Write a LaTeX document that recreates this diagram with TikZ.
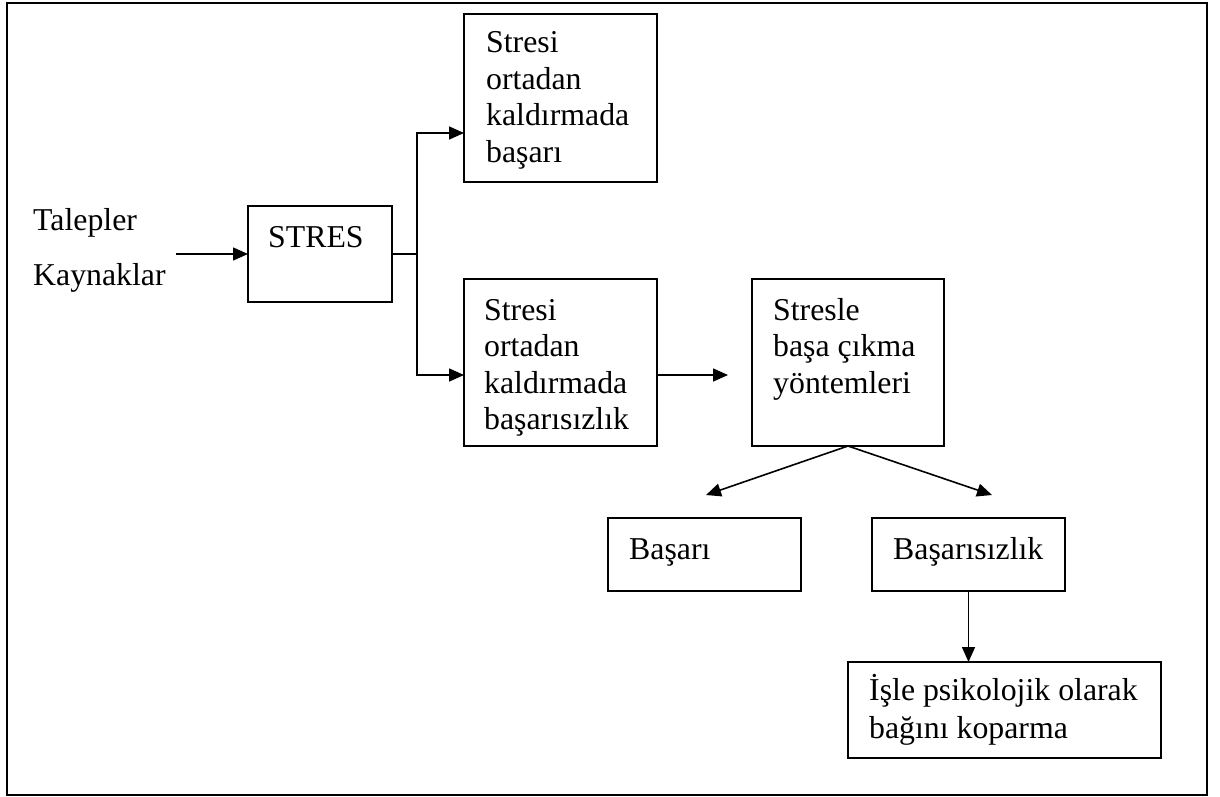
\documentclass[tikz,border=0pt]{standalone}
\usepackage{fontspec}
\setmainfont{Liberation Serif}
\usetikzlibrary{arrows.meta}
\tikzset{
  box/.style={draw, line width=1.6pt, rectangle, inner sep=0pt, outer sep=0pt, anchor=north west},
  lbl/.style={anchor=base west, inner sep=0pt, font=\fontsize{31.8}{36.5}\selectfont},
  conn/.style={line width=1.6pt},
  arr/.style={line width=1.6pt, -{Triangle[length=15pt,width=13pt]}}
}
\begin{document}
\begin{tikzpicture}[x=1pt,y=-1pt]
\useasboundingbox (0,0) rectangle (1220,797);
\draw[line width=2pt] (7,3) rectangle (1207,795);

% boxes
\node[box, minimum width=144pt, minimum height=96pt] (stres) at (248,206) {};
\node[box, minimum width=193pt, minimum height=168pt] (ok) at (464,14) {};
\node[box, minimum width=193pt, minimum height=167pt] (fail) at (464,279) {};
\node[box, minimum width=192pt, minimum height=167pt] (cope) at (752,279) {};
\node[box, minimum width=193pt, minimum height=73pt] (succ) at (608,518) {};
\node[box, minimum width=193pt, minimum height=73pt] (failb) at (872,518) {};
\node[box, minimum width=313pt, minimum height=96pt] (detach) at (848,662) {};

% texts
\node[lbl] (talep) at (33,230) {Talepler};
\node[lbl] (kayn) at (33,285) {Kaynaklar};
\node[lbl] (stxt) at (268,247) {STRES};

\node[lbl] (ok1) at (486,53) {Stresi};
\node[lbl] (ok2) at (486,89.5) {ortadan};
\node[lbl] (ok3) at (486,126) {kaldırmada};
\node[lbl] (ok4) at (486,162.5) {başarı};

\node[lbl] (f1) at (484,320) {Stresi};
\node[lbl] (f2) at (484,356.5) {ortadan};
\node[lbl] (f3) at (484,393) {kaldırmada};
\node[lbl] (f4) at (484,429) {başarısızlık};

\node[lbl] (c1) at (773,320) {Stresle};
\node[lbl] (c2) at (773,356.5) {başa çıkma};
\node[lbl] (c3) at (773,393) {yöntemleri};

\node[lbl] (s1) at (629,559) {Başarı};
\node[lbl] (b1) at (893,559) {Başarısızlık};

\node[lbl] (d1) at (869,700) {İşle psikolojik olarak};
\node[lbl] (d2) at (869,738) {bağını koparma};

% connectors
\coordinate (in) at (176,254);
\coordinate (j) at (417,254);
\coordinate (t1) at (706,495);
\coordinate (t2) at (992,495);
\draw[arr] (in) -- (stres.west |- in);
\draw[conn] (stres.east |- j) -- (j);
\draw[arr] (j) |- (ok.west |- 0,133);
\draw[arr] (j) |- (fail.west |- 0,375);
\draw[arr, shorten >=24pt] (fail.east |- 0,375) -- (cope.west |- 0,375);
\draw[arr] (cope.south) -- (t1);
\draw[arr] (cope.south) -- (t2);
\draw[arr] (failb.south) -- (failb.south |- detach.north);
\end{tikzpicture}
\end{document}
